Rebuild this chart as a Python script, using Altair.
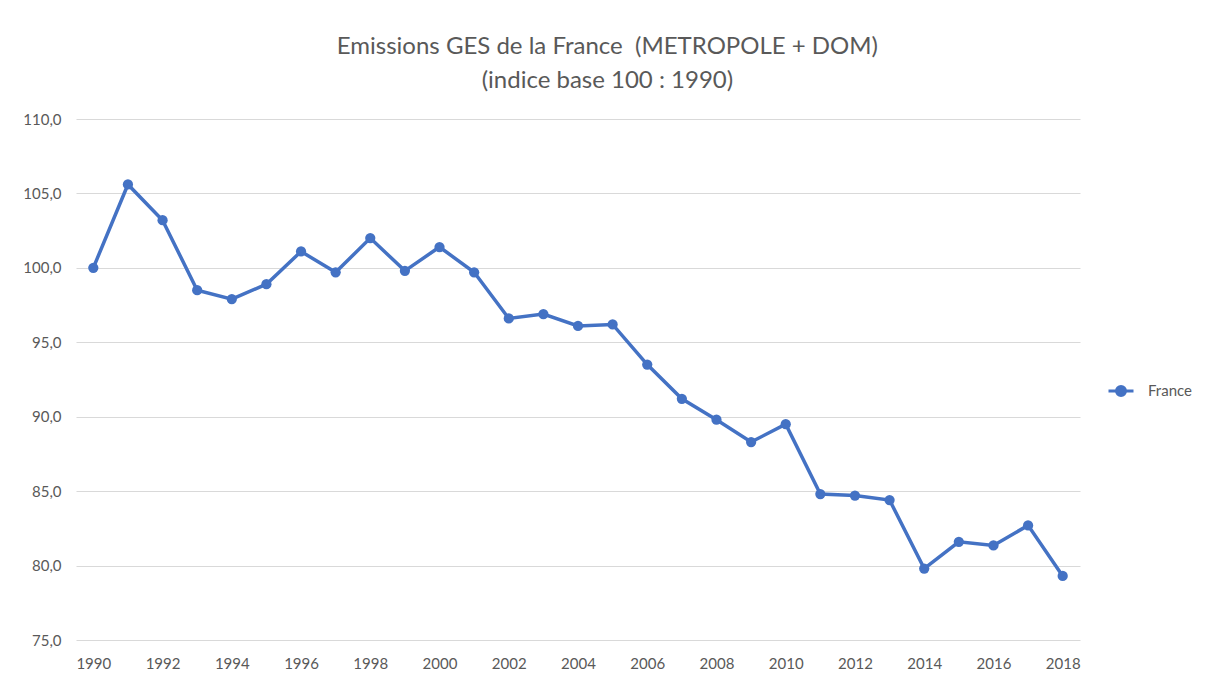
import altair as alt
import pandas as pd

years = list(range(1990, 2019))
values = [100.0, 105.6, 103.2, 98.5, 97.9, 98.9, 101.1, 99.7, 102.0, 99.8,
          101.4, 99.7, 96.6, 96.9, 96.1, 96.2, 93.5, 91.2, 89.8, 88.3,
          89.5, 84.8, 84.7, 84.4, 79.8, 81.6, 81.35, 82.7, 79.3]
series = ["France"] * len(years)
x_ticks = list(range(1990, 2019, 2))
y_ticks = [75, 80, 85, 90, 95, 100, 105, 110]

df = pd.DataFrame({"annee": years, "indice": values, "serie": series})

BLUE = "#4472C4"
GREY = "#595959"
FONT = "Lato"

legend_path = ("M-1,0 L1,0 M0.36,0 A0.36,0.36 0 1,1 -0.36,0 "
               "A0.36,0.36 0 1,1 0.36,0 Z")

x = alt.X("annee:Q", title=None,
          scale=alt.Scale(domain=[1989.5, 2018.5], nice=False, zero=False),
          axis=alt.Axis(values=x_ticks, format="d", grid=False, ticks=False,
                        domain=False, labelPadding=16, labelFontSize=15,
                        labelColor=GREY, labelFont=FONT))
y = alt.Y("indice:Q", title=None,
          scale=alt.Scale(domain=[75, 110], nice=False, zero=False),
          axis=alt.Axis(values=y_ticks, grid=True, gridColor="#d9d9d9",
                        gridWidth=1, ticks=False, domain=False,
                        labelPadding=15, labelFontSize=15, labelColor=GREY,
                        labelFont=FONT,
                        labelExpr="replace(format(datum.value, '.1f'), '.', ',')"))
color = alt.Color("serie:N", title=None,
                  scale=alt.Scale(range=[BLUE]),
                  legend=alt.Legend(orient="none", legendX=1031, legendY=258,
                                    symbolType=legend_path, symbolSize=625,
                                    symbolStrokeWidth=3, symbolFillColor=BLUE,
                                    symbolStrokeColor=BLUE,
                                    labelFontSize=15, labelColor=GREY,
                                    labelFont=FONT, labelOffset=13))

line = alt.Chart(df).mark_line(strokeWidth=3.5).encode(x=x, y=y, color=color)
pts = alt.Chart(df).mark_circle(size=105, opacity=1).encode(x=x, y=y, color=color)

chart = (line + pts).properties(
    width=1004, height=521,
    padding={"left": 14, "top": 27, "right": 0, "bottom": 5},
    title=alt.Title(["Emissions GES de la France\u00a0\u00a0(METROPOLE + DOM)",
                     "(indice base 100 : 1990)"],
                    anchor="middle", frame="bounds", fontSize=24,
                    font=FONT, fontWeight="normal", color=GREY,
                    lineHeight=34, offset=19),
).configure(background="white", view=alt.ViewConfig(stroke=None))

chart.save("out.html", embed_options={"renderer": "svg", "actions": False})
